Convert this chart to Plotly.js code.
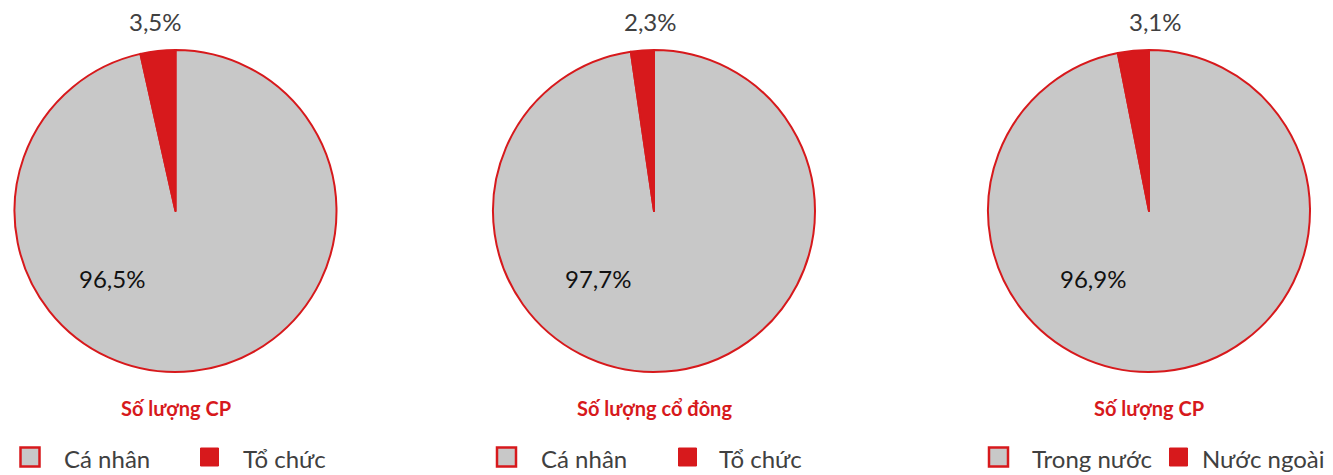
<!DOCTYPE html>
<html>
<head>
<meta charset="utf-8">
<script src="https://cdn.plot.ly/plotly-3.0.1.min.js"></script>
<style>
html,body{margin:0;padding:0;background:#fff;}
#chart{width:1333px;height:475px;}
</style>
</head>
<body>
<div id="chart"></div>
<script>
// ---- data ----
const pieTitles = ['Số lượng CP', 'Số lượng cổ đông', 'Số lượng CP'];
const pieLabels1 = ['Cá nhân', 'Tổ chức'];
const pieLabels2 = ['Cá nhân', 'Tổ chức'];
const pieLabels3 = ['Trong nước', 'Nước ngoài'];
const pieValues1 = [96.5, 3.5];
const pieValues2 = [97.7, 2.3];
const pieValues3 = [96.9, 3.1];

// ---- style / layout ----
const W = 1333, H = 475;
const GRAY = '#c8c8c8', RED = '#d7191c', TXT = '#404040';
const FONT = 'Lato, "Open Sans", sans-serif';
const centersX = [175.5, 654, 1149];
const centerY = 211, R = 161;
const bigLabelPos = [[111.5, 278], [598, 278], [1093, 278]];
const smallLabelPos = [[155.5, 21], [650.5, 21], [1155, 21]];
const titleY = 408;
const legendY = 457;
const legendItems = [
  {sq: [30, 209.5], txt: [61.5, 240.5]},
  {sq: [506.5, 687.5], txt: [538.5, 716.5]},
  {sq: [998.5, 1178.5], txt: [1029.5, 1199.5]}
];

const px = x => x / W;
const py = y => 1 - y / H;
const fmt = v => v.toFixed(1).replace('.', ',') + '%';

const allLabels = [pieLabels1, pieLabels2, pieLabels3];
const allValues = [pieValues1, pieValues2, pieValues3];

const traces = [];
const annotations = [];
const shapes = [];

allValues.forEach((vals, i) => {
  const cx = centersX[i];
  traces.push({
    type: 'pie',
    values: vals,
    labels: allLabels[i],
    sort: false,
    direction: 'clockwise',
    rotation: 0,
    textinfo: 'none',
    hoverinfo: 'label+percent',
    showlegend: false,
    marker: {colors: [GRAY, RED], line: {color: RED, width: 2}},
    domain: {x: [px(cx - R), px(cx + R)], y: [py(centerY + R), py(centerY - R)]}
  });
  // value labels
  annotations.push({
    xref: 'paper', yref: 'paper', x: px(bigLabelPos[i][0]), y: py(bigLabelPos[i][1]),
    text: fmt(vals[0]), showarrow: false, xanchor: 'center', yanchor: 'middle',
    font: {family: FONT, size: 24, color: '#111111'}
  });
  annotations.push({
    xref: 'paper', yref: 'paper', x: px(smallLabelPos[i][0]), y: py(smallLabelPos[i][1]),
    text: fmt(vals[1]), showarrow: false, xanchor: 'center', yanchor: 'middle',
    font: {family: FONT, size: 24, color: TXT}
  });
  // title
  annotations.push({
    xref: 'paper', yref: 'paper', x: px(cx), y: py(titleY),
    text: '<b>' + pieTitles[i] + '</b>', showarrow: false, xanchor: 'center', yanchor: 'middle',
    font: {family: FONT, size: 20, color: RED}
  });
  // legend
  const li = legendItems[i];
  const sizes = [19, 18];
  [0, 1].forEach(k => {
    const c = li.sq[k], s = sizes[k] / 2;
    shapes.push({
      type: 'rect', xref: 'paper', yref: 'paper',
      x0: px(c - s), x1: px(c + s), y0: py(legendY + s), y1: py(legendY - s),
      fillcolor: k === 0 ? GRAY : RED,
      line: {color: RED, width: k === 0 ? 2.5 : 1}
    });
    annotations.push({
      xref: 'paper', yref: 'paper', x: px(li.txt[k]), y: py(legendY + 1),
      text: allLabels[i][k], showarrow: false, xanchor: 'left', yanchor: 'middle',
      font: {family: FONT, size: 24, color: TXT}
    });
  });
});

const layout = {
  width: W, height: H,
  margin: {l: 0, r: 0, t: 0, b: 0},
  paper_bgcolor: '#ffffff',
  plot_bgcolor: '#ffffff',
  font: {family: FONT},
  showlegend: false,
  annotations: annotations,
  shapes: shapes
};

Plotly.newPlot('chart', traces, layout, {displayModeBar: false, staticPlot: true});
</script>
</body>
</html>
